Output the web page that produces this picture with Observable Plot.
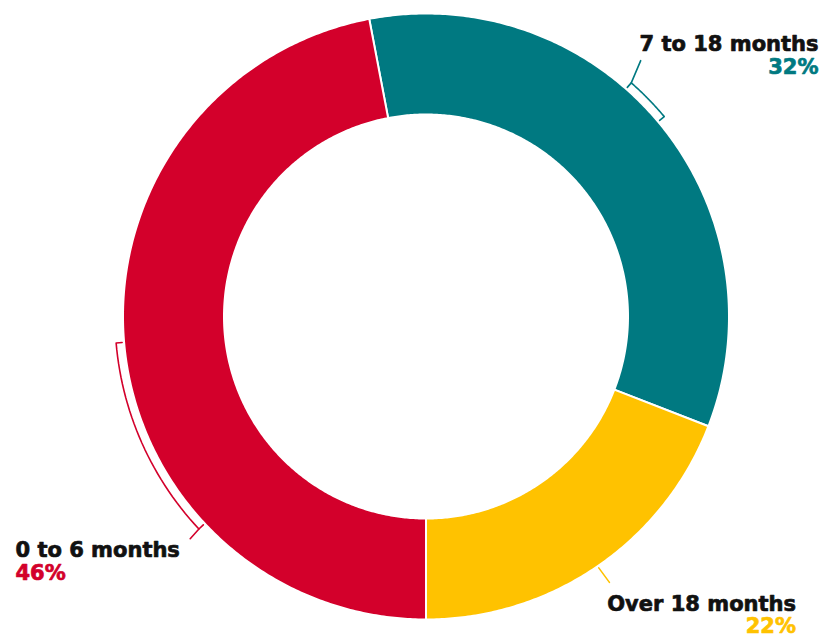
<!DOCTYPE html>
<html>
<head>
<meta charset="utf-8">
<script src="https://cdn.jsdelivr.net/npm/d3@7"></script>
<script src="https://cdn.jsdelivr.net/npm/@observablehq/plot@0.6"></script>
<style>
  html, body { margin: 0; padding: 0; background: #fff; }
  #chart svg { display: block; }
</style>
</head>
<body>
<div id="chart"></div>
<script>
// ---- Data ----
const categories = ["7 to 18 months", "Over 18 months", "0 to 6 months"];
const arcShares = [33.9, 19.1, 47.0];          // share of the ring each slice occupies, as drawn
const percentLabels = ["32%", "22%", "46%"];    // printed labels
const sliceColors = ["#007981", "#FFC200", "#D3002B"];

// ---- Layout ----
const W = 822, H = 637;
const cx = 425.5, cy = 316;          // ring centre in px
const R = 303, r = 202;              // outer / inner radius
const startDeg = -10.8;              // first slice starts here (clockwise from 12 o'clock)
const rad = Math.PI / 180;
const polar = (deg, rr) => ({x: rr * Math.sin(deg * rad), y: rr * Math.cos(deg * rad)});
const px = (x, y) => ({x: x - cx, y: cy - y});

// slices via d3.pie
const pie = d3.pie().sort(null).value(d => d.share)
  .startAngle(startDeg * rad).endAngle((startDeg + 360) * rad);
const rows = categories.map((cat, i) => ({cat, share: arcShares[i], label: percentLabels[i]}));
const arcs = pie(rows);

const slicePts = [];
for (const a of arcs) {
  const a0 = a.startAngle / rad, a1 = a.endAngle / rad;
  const n = Math.max(8, Math.ceil((a1 - a0) / 0.5));
  for (let k = 0; k <= n; k++) slicePts.push({cat: a.data.cat, ...polar(a0 + (a1 - a0) * k / n, R)});
  for (let k = n; k >= 0; k--) slicePts.push({cat: a.data.cat, ...polar(a0 + (a1 - a0) * k / n, r)});
}

// bracket / leader annotations (layout)
const annot = {
  "7 to 18 months": {bracket: [41.3, 50.0], leader: [41.3, 40.0, 334],
                     text: {anchor: "end", x: 818, base1: 50.5, base2: 73.5}},
  "Over 18 months": {bracket: null, leader: [145.5, 145.4, 323],
                     text: {anchor: "end", x: 795.5, base1: 610, base2: 632.5}},
  "0 to 6 months":  {bracket: [226.9, 265.1], leader: [226.9, 226.7, 324],
                     text: {anchor: "start", x: 15, base1: 556.5, base2: 579.5}}
};
const bR = 311, bTick = 305;
const bracketPts = [], leaderPts = [];
categories.forEach((cat, i) => {
  const A = annot[cat];
  if (A.bracket) {
    const [b0, b1] = A.bracket;
    bracketPts.push({cat, ...polar(b0, bTick)});
    for (let k = 0; k <= 30; k++) bracketPts.push({cat, ...polar(b0 + (b1 - b0) * k / 30, bR)});
    bracketPts.push({cat, ...polar(b1, bTick)});
    leaderPts.push({cat, ...polar(A.leader[0], bR)}, {cat, ...polar(A.leader[1], A.leader[2])});
  } else {
    leaderPts.push({cat, ...polar(A.leader[0], R + 2)}, {cat, ...polar(A.leader[1], A.leader[2])});
  }
});

const fs = 21;
const textRows = [];
rows.forEach(d => {
  const t = annot[d.cat].text;
  textRows.push({cat: d.cat, kind: "name", anchor: t.anchor, text: d.cat, ...px(t.x, t.base1 - 0.32 * fs)});
  textRows.push({cat: d.cat, kind: "pct", anchor: t.anchor, text: d.label, ...px(t.x, t.base2 - 0.32 * fs)});
});
const textStyle = {fontSize: fs, fontWeight: "bold", fontFamily: "DejaVu Sans", strokeWidth: 0.7};

const chart = Plot.plot({
  width: W, height: H,
  margin: 0,
  x: {domain: [-cx, W - cx], range: [0, W], axis: null},
  y: {domain: [-(H - cy), cy], range: [H, 0], axis: null},
  color: {domain: categories, range: sliceColors},
  style: {background: "#fff"},
  marks: [
    Plot.line(slicePts, {x: "x", y: "y", z: "cat", fill: "cat", stroke: "#fff", strokeWidth: 2, curve: "linear-closed"}),
    Plot.line(bracketPts, {x: "x", y: "y", z: "cat", stroke: "cat", strokeWidth: 1.6, curve: "linear"}),
    Plot.line(leaderPts, {x: "x", y: "y", z: "cat", stroke: "cat", strokeWidth: 1.6, curve: "linear"}),
    Plot.text(textRows.filter(d => d.kind === "name" && d.anchor === "end"),
      {x: "x", y: "y", text: "text", textAnchor: "end", fill: "#111", stroke: "#111", ...textStyle}),
    Plot.text(textRows.filter(d => d.kind === "name" && d.anchor === "start"),
      {x: "x", y: "y", text: "text", textAnchor: "start", fill: "#111", stroke: "#111", ...textStyle}),
    Plot.text(textRows.filter(d => d.kind === "pct" && d.anchor === "end"),
      {x: "x", y: "y", text: "text", textAnchor: "end", fill: "cat", stroke: "cat", ...textStyle}),
    Plot.text(textRows.filter(d => d.kind === "pct" && d.anchor === "start"),
      {x: "x", y: "y", text: "text", textAnchor: "start", fill: "cat", stroke: "cat", ...textStyle})
  ]
});
document.getElementById("chart").appendChild(chart);
</script>
</body>
</html>
